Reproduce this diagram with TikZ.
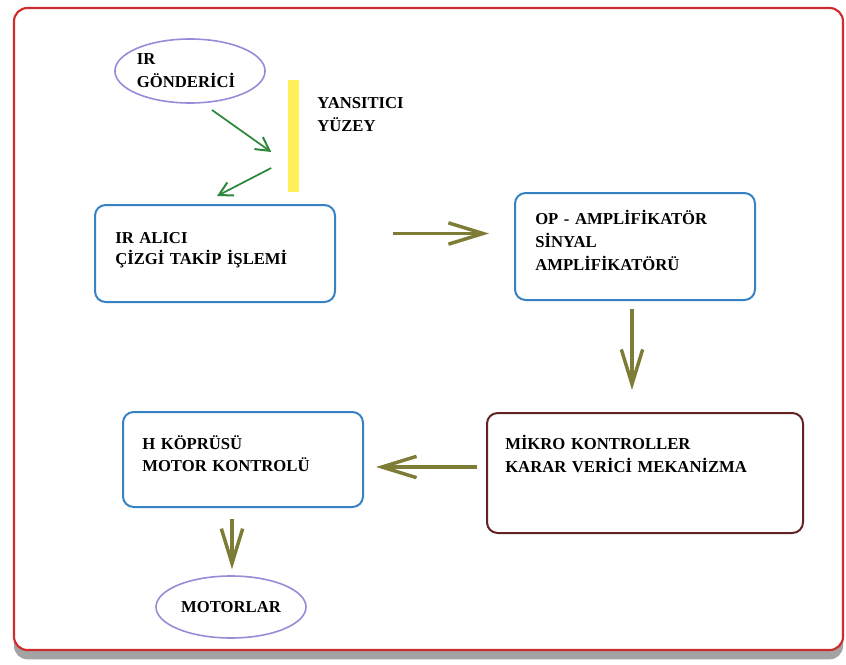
\documentclass[tikz,border=0pt]{standalone}
\usepackage{fontspec}
\setmainfont{Liberation Serif}
\usetikzlibrary{arrows.meta, calc, shapes.geometric, shadows}

\newdimen\pxu \pxu=0.75pt
\definecolor{framered}{RGB}{205,45,45}
\definecolor{boxblue}{RGB}{55,130,195}
\definecolor{boxbrown}{RGB}{100,35,35}
\definecolor{ovalline}{RGB}{150,140,215}
\definecolor{flowolive}{RGB}{125,125,55}
\definecolor{raygreen}{RGB}{45,135,60}
\definecolor{mirror}{RGB}{255,240,90}

\begin{document}
\begin{tikzpicture}[x=0.75pt, y=-0.75pt,
    box/.style={draw=boxblue, line width=1.5pt, rounded corners=8pt, minimum width=240\pxu, inner sep=0},
    oval/.style={ellipse, draw=ovalline, line width=1.2pt, inner sep=0, align=left,
        font=\fontsize{12.5}{17.25}\selectfont\bfseries},
    lbl/.style={font=\fontsize{12.5}{17.25}\selectfont\bfseries, inner sep=0, anchor=base west,
        text width=280\pxu, align=left},
    flow/.style={draw=flowolive, line width=2.3pt,
        -{Straight Barb[length=26pt, width=16pt, line width=2.6pt]}},
    ray/.style={draw=raygreen, line width=1.3pt,
        -{Straight Barb[length=10pt, width=11pt, line width=1.5pt]}}
]

    % page and outer frame
    \useasboundingbox (0,0) rectangle (846,664);
    \fill[white] (0,0) rectangle (846,664);
    \draw[framered, line width=1.6pt, rounded corners=10pt, fill=white,
        drop shadow={shadow xshift=0pt, shadow yshift=-7pt, fill=black!45, opacity=0.8}]
        (14,8) rectangle (843,650);

    % emitter, reflecting surface and receiver
    \node[oval, minimum width=150\pxu, minimum height=64\pxu] (gonderici) at (190,71) {IR\\GÖNDERİCİ\hspace*{8\pxu}};
    \node[fill=mirror, inner sep=0, minimum width=11\pxu, minimum height=112\pxu] (yuzey) at (293,136) {};
    \node[lbl] (yansitici) at (317,108) {YANSITICI\\YÜZEY};

    \node[box, minimum height=97\pxu] (alici) at (215,253.5) {};
    \node[lbl, font=\fontsize{12.5}{16}\selectfont\bfseries] (alici-t) at (115,243) {IR ALICI\\ÇİZGİ TAKİP İŞLEMİ};

    % amplifier
    \node[box, minimum height=107\pxu] (op) at (635,246.5) {};
    \node[lbl] (op-t) at (535,224) {OP - AMPLİFİKATÖR\\SİNYAL\\AMPLİFİKATÖRÜ};

    % microcontroller
    \node[box, draw=boxbrown, minimum width=316\pxu, minimum height=120\pxu] (mikro) at (645,473) {};
    \node[lbl] (mikro-t) at (505,449) {MİKRO KONTROLLER\\KARAR VERİCİ MEKANİZMA};

    % H bridge and motors
    \node[box, minimum height=95\pxu] (kopru) at (243,459.5) {};
    \node[lbl, font=\fontsize{12.5}{16.5}\selectfont\bfseries] (kopru-t) at (142,449) {H KÖPRÜSÜ\\MOTOR KONTROLÜ};

    \node[oval, minimum width=150\pxu, minimum height=62\pxu] (motor) at (231,607) {MOTORLAR};

    % infrared rays
    \draw[ray] ($(gonderici.center)+(22,39)$) -- ($(yuzey.west)+(-16,16)$);
    \draw[ray] ($(yuzey.west)+(-16,32)$) -- ($(alici.north)+(2,-8)$);

    % signal flow
    \draw[flow] ($(alici.east)+(57,-20)$) -- ($(op.west)+(-25,-13)$);
    \draw[flow] ($(op.south)+(-3,8)$) -- ($(mikro.north)+(-13,-22)$);
    \draw[flow] ($(mikro.west)+(-9,-6)$) -- ($(kopru.east)+(12,7.5)$);
    \draw[flow] ($(kopru.south)+(-11,11)$) -- ($(motor.north)+(1,-6)$);

\end{tikzpicture}
\end{document}
